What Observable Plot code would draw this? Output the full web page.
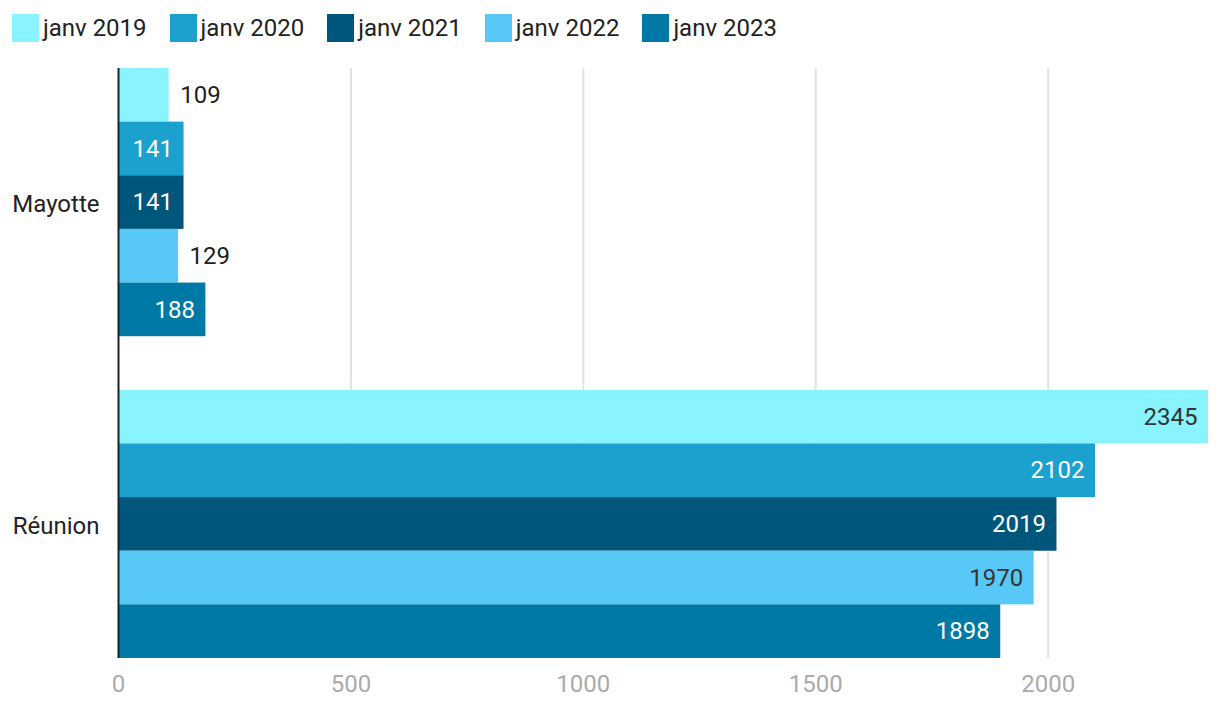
<!DOCTYPE html>
<html>
<head>
<meta charset="utf-8">
<script src="https://cdn.jsdelivr.net/npm/d3@7"></script>
<script src="https://cdn.jsdelivr.net/npm/@observablehq/plot@0.6"></script>
<style>
  html, body { margin: 0; padding: 0; background: #fff; }
  body { width: 1220px; height: 706px; overflow: hidden; font-family: Roboto, sans-serif; }
  #legend { height: 50px; display: flex; align-items: flex-start; padding: 14px 0 0 12px; box-sizing: border-box; }
  .item { display: flex; align-items: center; margin-right: 23px; }
  .sw { width: 27px; height: 28px; margin-right: 4px; }
  .lab { font-size: 24px; color: #222; line-height: 28px; }
  #chart svg { display: block; }
</style>
</head>
<body>
<div id="legend"></div>
<div id="chart"></div>
<script>
const regions = ["Mayotte", "Réunion"];
const years = ["janv 2019", "janv 2020", "janv 2021", "janv 2022", "janv 2023"];
const mayotte = [109, 141, 141, 129, 188];
const reunion = [2345, 2102, 2019, 1970, 1898];
const colors = ["#89f4ff", "#1aa1cd", "#01567c", "#58c9f6", "#0079a6"];
const xTicks = [0, 500, 1000, 1500, 2000];
const lightYears = ["janv 2019", "janv 2022"];

const series = [mayotte, reunion];
const data = regions.flatMap((r, i) => years.map((y, j) => ({region: r, year: y, value: series[i][j], key: r + "|" + y})));
const yDomain = [...years.map(y => "Mayotte|" + y), "gap", ...years.map(y => "Réunion|" + y)];

const legend = document.getElementById("legend");
years.forEach((y, i) => {
  const it = document.createElement("div");
  it.className = "item";
  it.innerHTML = `<div class="sw" style="background:${colors[i]}"></div><span class="lab">${y}</span>`;
  legend.appendChild(it);
});

const inside = d => d.value > 135;
const fs = 24;
const chart = Plot.plot({
  width: 1220,
  height: 656,
  marginTop: 18,
  marginBottom: 48,
  marginLeft: 118,
  marginRight: 12,
  style: {fontFamily: "Roboto, sans-serif", fontSize: fs + "px", background: "#fff"},
  x: {domain: [0, 2345], label: null},
  y: {domain: yDomain, padding: 0, round: false, axis: null},
  color: {domain: years, range: colors},
  marks: [
    Plot.ruleX(xTicks.slice(1), {stroke: "#e2e2e2", strokeWidth: 2}),
    Plot.barX(data, {x: "value", y: "key", fill: "year"}),
    Plot.ruleX([0], {stroke: "#222", strokeWidth: 2}),
    Plot.axisX({ticks: xTicks, tickFormat: d => String(d), tickSize: 0, tickPadding: 16, fill: "#aaa", fontSize: fs, label: null}),
    Plot.text(data.filter(d => inside(d) && lightYears.includes(d.year)), {x: "value", y: "key", text: d => String(d.value), textAnchor: "end", dx: -11, fill: "#333", fontSize: fs}),
    Plot.text(data.filter(d => inside(d) && !lightYears.includes(d.year)), {x: "value", y: "key", text: d => String(d.value), textAnchor: "end", dx: -11, fill: "#fff", fontSize: fs}),
    Plot.text(data.filter(d => !inside(d)), {x: "value", y: "key", text: d => String(d.value), textAnchor: "start", dx: 11, fill: "#222", fontSize: fs}),
    Plot.text(regions, {y: r => r + "|janv 2021", text: d => d, frameAnchor: "left", textAnchor: "end", dx: -19, dy: 2, fill: "#222", fontSize: fs})
  ]
});
document.getElementById("chart").appendChild(chart);
</script>
</body>
</html>
